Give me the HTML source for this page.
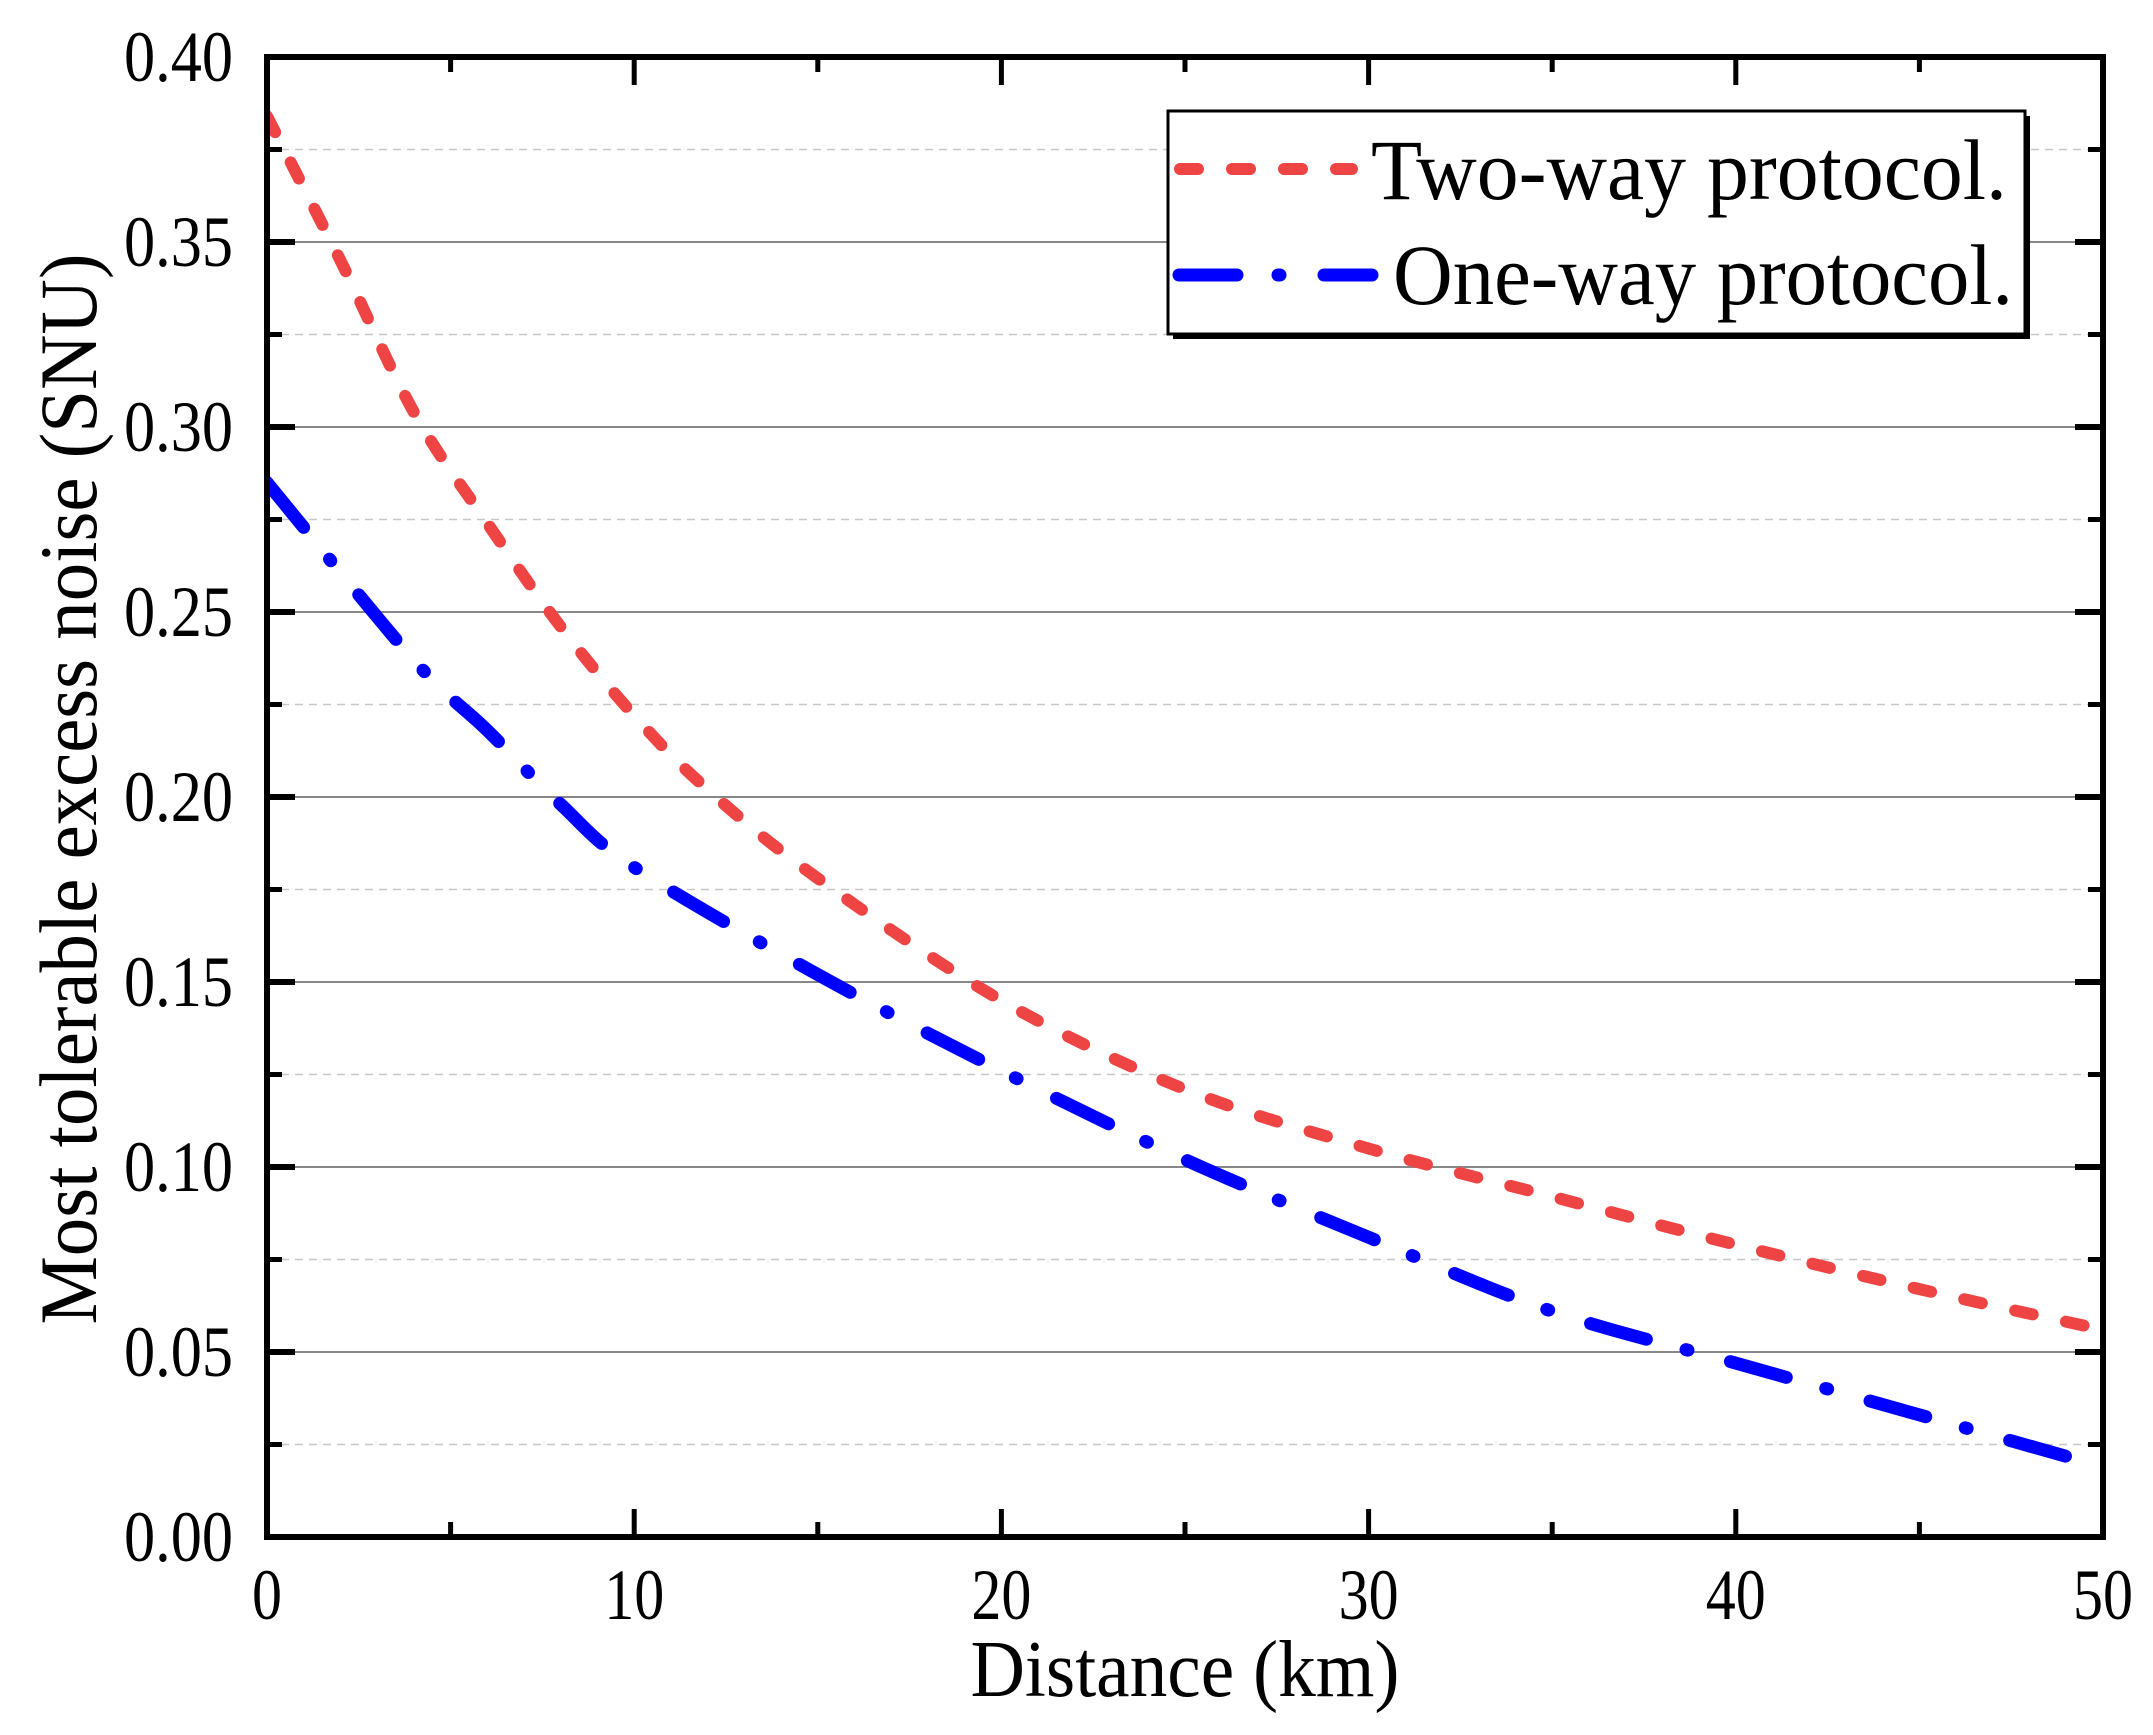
<!DOCTYPE html>
<html><head><meta charset="utf-8">
<style>
html,body{margin:0;padding:0;background:#fff;}
svg{display:block;font-family:"Liberation Serif","Times New Roman",serif;}
</style></head>
<body>
<svg id="chart" width="2153" height="1735" viewBox="0 0 2153 1735" xmlns="http://www.w3.org/2000/svg">
<g id="grid"></g>
<g id="series"></g>
<g id="axes"></g>
<g id="legend">
  <rect x="1173" y="116" width="857" height="223" fill="#000"/>
  <rect x="1168" y="111" width="857" height="223" fill="#fff" stroke="#000" stroke-width="3"/>
  <line x1="1180" y1="169" x2="1352" y2="169" stroke="#ef4444" stroke-width="12" stroke-linecap="round" stroke-dasharray="18 34"/>
  <text x="1371" y="199" font-size="86" textLength="636" lengthAdjust="spacingAndGlyphs">Two-way protocol.</text>
  <line x1="1179" y1="275" x2="1372" y2="275" stroke="#0000ff" stroke-width="13" stroke-linecap="round" stroke-dasharray="58 41 2 44"/>
  <text x="1393" y="304" font-size="86" textLength="620" lengthAdjust="spacingAndGlyphs">One-way protocol.</text>
</g>
</svg>
<script>
const xTicks = [0, 10, 20, 30, 40, 50];
const yTicks = [0, 0.05, 0.10, 0.15, 0.20, 0.25, 0.30, 0.35, 0.40];
const yTickLabels = ["0.00","0.05","0.10","0.15","0.20","0.25","0.30","0.35","0.40"];
const twoWayX = [0, 2, 4, 6, 8, 10, 12, 15, 20, 25, 30, 35, 40, 45, 50];
const twoWayY = [0.384, 0.345, 0.304, 0.274, 0.246, 0.222, 0.202, 0.178, 0.145, 0.121, 0.105, 0.092, 0.079, 0.067, 0.056];
const oneWayX = [0, 4, 6, 8, 10, 15, 20, 25, 30, 35, 40, 45, 50];
const oneWayY = [0.285, 0.237, 0.218, 0.198, 0.181, 0.152, 0.126, 0.102, 0.081, 0.061, 0.047, 0.033, 0.019];

const L=267, R=2103, T=57, B=1537;
const X0=0, X1=50, Y0=0, Y1=0.40;
function sx(v){return L+(v-X0)/(X1-X0)*(R-L);}
function sy(v){return B-(v-Y0)/(Y1-Y0)*(B-T);}
const NS="http://www.w3.org/2000/svg";
function mk(tag, attrs, parent){const e=document.createElementNS(NS,tag);for(const k in attrs)e.setAttribute(k,attrs[k]);parent.appendChild(e);return e;}

const grid=document.getElementById('grid');
const axes=document.getElementById('axes');
const series=document.getElementById('series');

for(let i=0;i<yTicks.length;i++){
  const y=sy(yTicks[i]);
  if(i>0&&i<yTicks.length-1){
    const g=mk('line',{x1:L,x2:R,y1:y,y2:y,stroke:'#888',"stroke-width":2},grid);
    
    
  }
  if(i<yTicks.length-1){
    const ym=sy((yTicks[i]+yTicks[i+1])/2);
    const m=mk('line',{x1:L,x2:R,y1:ym,y2:ym,stroke:'#c8c8c8',"stroke-width":1.5,"stroke-dasharray":"8 6"},grid);
    
    
  }
}

function pathFor(xs, ys){
  const p=xs.map((x,i)=>[sx(x),sy(ys[i])]);
  let d=`M${p[0][0]},${p[0][1]}`;
  for(let i=0;i<p.length-1;i++){
    const p0=p[Math.max(0,i-1)],p1=p[i],p2=p[i+1],p3=p[Math.min(p.length-1,i+2)];
    const c1=[p1[0]+(p2[0]-p0[0])/6,p1[1]+(p2[1]-p0[1])/6];
    const c2=[p2[0]-(p3[0]-p1[0])/6,p2[1]-(p3[1]-p1[1])/6];
    d+=` C${c1[0]},${c1[1]} ${c2[0]},${c2[1]} ${p2[0]},${p2[1]}`;
  }
  return d;
}
const clip=mk('clipPath',{id:'plotclip'},series);
mk('rect',{x:L,y:T,width:R-L,height:B-T},clip);
const red=mk('path',{d:pathFor(twoWayX,twoWayY),fill:'none',stroke:'#ef4444',"stroke-width":12,"stroke-linecap":"round","stroke-dasharray":"18 34","clip-path":"url(#plotclip)"},series);


const blue=mk('path',{d:pathFor(oneWayX,oneWayY),fill:'none',stroke:'#0000ff',"stroke-width":13,"stroke-linecap":"round","stroke-dasharray":"58 41 2 44","clip-path":"url(#plotclip)"},series);



const frame=mk('rect',{x:L,y:T,width:R-L,height:B-T,fill:'none',stroke:'#000',"stroke-width":6},axes);



for(let i=0;i<yTicks.length;i++){
  const y=sy(yTicks[i]);
  const t1=mk('line',{x1:L,x2:L+28,y1:y,y2:y,stroke:'#000',"stroke-width":6},axes);
  
  
  const t2=mk('line',{x1:R,x2:R-28,y1:y,y2:y,stroke:'#000',"stroke-width":6},axes);
  
  
  const lb=mk('text',{x:233,y:y+24,"font-size":72,"text-anchor":"end",textLength:109,lengthAdjust:"spacingAndGlyphs"},axes);
  lb.textContent=yTickLabels[i];
  
  
  if(i<yTicks.length-1){
    const ym=sy((yTicks[i]+yTicks[i+1])/2);
    const m1=mk('line',{x1:L,x2:L+15,y1:ym,y2:ym,stroke:'#000',"stroke-width":5},axes);
    
    
    const m2=mk('line',{x1:R,x2:R-15,y1:ym,y2:ym,stroke:'#000',"stroke-width":5},axes);
    
    
  }
}
for(let i=0;i<xTicks.length;i++){
  const x=sx(xTicks[i]);
  const t1=mk('line',{x1:x,x2:x,y1:B,y2:B-28,stroke:'#000',"stroke-width":5},axes);
  
  
  const t2=mk('line',{x1:x,x2:x,y1:T,y2:T+28,stroke:'#000',"stroke-width":5},axes);
  
  
  const lbl=String(xTicks[i]);
  const lb=mk('text',{x:x,y:1619,"font-size":72,"text-anchor":"middle",textLength:(lbl.length*30),lengthAdjust:"spacingAndGlyphs"},axes);
  lb.textContent=lbl;
  
  
  if(i<xTicks.length-1){
    const xm=sx((xTicks[i]+xTicks[i+1])/2);
    const m1=mk('line',{x1:xm,x2:xm,y1:B,y2:B-15,stroke:'#000',"stroke-width":5},axes);
    
    
    const m2=mk('line',{x1:xm,x2:xm,y1:T,y2:T+15,stroke:'#000',"stroke-width":5},axes);
    
    
  }
}
const xt=mk('text',{x:1185,y:1696,"font-size":80,"text-anchor":"middle",textLength:429,lengthAdjust:"spacingAndGlyphs"},axes);
xt.textContent='Distance (km)';


const yt=mk('text',{x:0,y:0,"font-size":82,"text-anchor":"middle",textLength:1071,lengthAdjust:"spacingAndGlyphs",transform:"translate(96,789) rotate(-90)"},axes);
yt.textContent='Most tolerable excess noise (SNU)';


</script>
</body></html>
